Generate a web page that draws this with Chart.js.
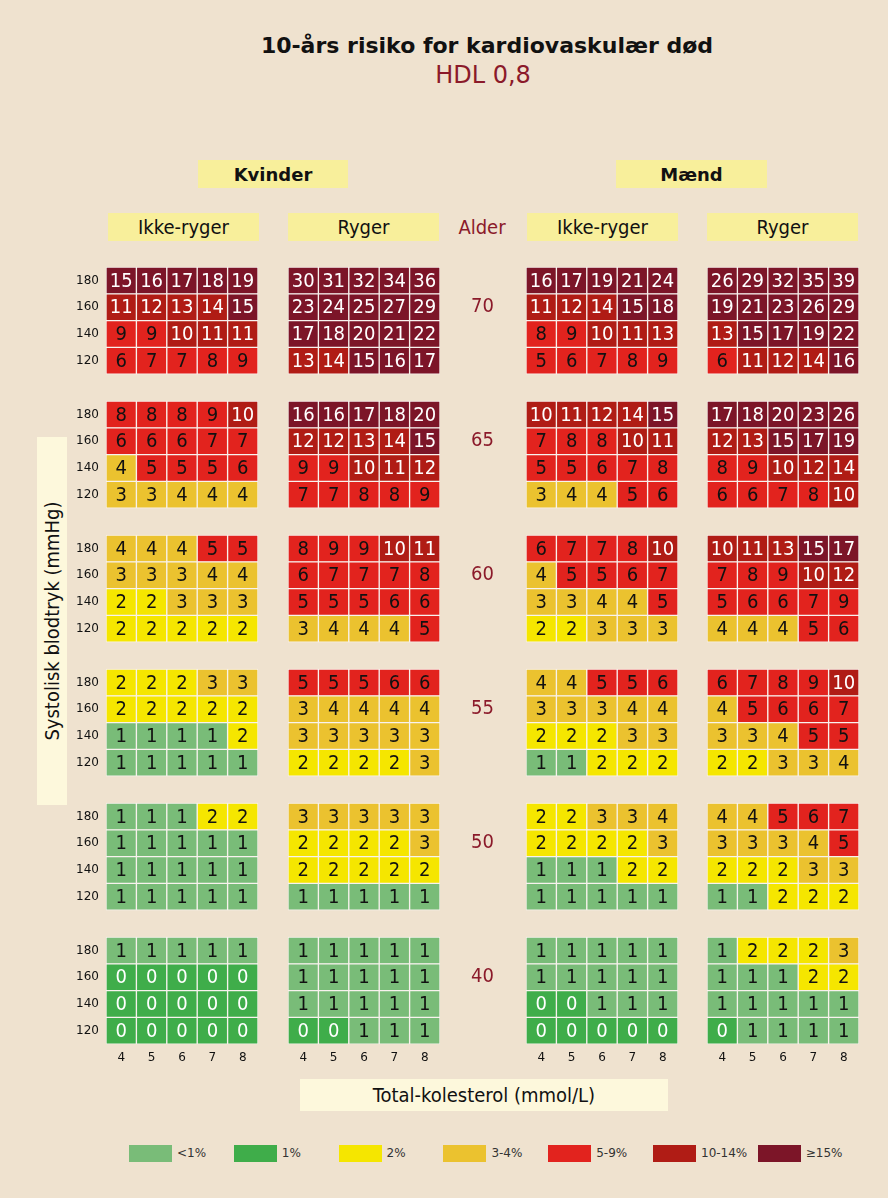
<!DOCTYPE html>
<html lang="da">
<head>
<meta charset="utf-8">
<title>10-års risiko for kardiovaskulær død</title>
<script src="https://cdn.jsdelivr.net/npm/chart.js@4.4.0/dist/chart.umd.min.js"></script>
<style>
  body { margin: 0; background: #efe2cf; font-family: "DejaVu Sans", sans-serif; color: #111; }
  #page { position: relative; width: 888px; height: 1198px; overflow: hidden; }
  .box { position: absolute; display: flex; align-items: center; justify-content: center; white-space: nowrap; }
  .cond { font-family: "DejaVu Sans Condensed", "DejaVu Sans", sans-serif; font-size: 20px; }
  .yellow { background: #f8ef9b; }
  .cream { background: #fdf8dc; }
  .red { color: #8b1a2a; }
  canvas { position: absolute; top: 222.6px; }
</style>
</head>
<body>
<div id="page">
  <div class="box" style="left:187px; top:32px; width:600px; height:26px; font-size:22px; font-weight:bold;">10-års risiko for kardiovaskulær død</div>
  <div class="box red" style="left:383px; top:61px; width:200px; height:28px; font-size:24px;">HDL 0,8</div>

  <div class="box yellow" style="left:198px; top:160px; width:150px; height:28px; font-size:18px; font-weight:bold;">Kvinder</div>
  <div class="box yellow" style="left:616px; top:160px; width:151px; height:28px; font-size:18px; font-weight:bold;">Mænd</div>

  <div class="box yellow cond" style="left:108px; top:213px; width:151px; height:28px;">Ikke-ryger</div>
  <div class="box yellow cond" style="left:288px; top:213px; width:151px; height:28px;">Ryger</div>
  <div class="box red cond" style="left:447px; top:213px; width:70px; height:28px;">Alder</div>
  <div class="box yellow cond" style="left:527px; top:213px; width:151px; height:28px;">Ikke-ryger</div>
  <div class="box yellow cond" style="left:707px; top:213px; width:151px; height:28px;">Ryger</div>

  <div class="box cream" style="left:37px; top:437px; width:30px; height:368px;">
    <span class="cond" style="display:block; transform:rotate(-90deg);">Systolisk blodtryk (mmHg)</span>
  </div>
  <div class="box cream cond" style="left:300px; top:1079px; width:368px; height:32px;">Total-kolesterol (mmol/L)</div>

  <canvas id="c1" width="192" height="866" style="left:66px;"></canvas>
  <canvas id="c2" width="152" height="866" style="left:288px;"></canvas>
  <canvas id="c3" width="238" height="866" style="left:440px;"></canvas>
  <canvas id="c4" width="152" height="866" style="left:707px;"></canvas>

  <div id="legend"></div>
</div>

<script>
// aldersgrupper, blodtryk (rækker) og kolesterol (kolonner)
const ages = [70, 65, 60, 55, 50, 40];
const bloodPressure = [180, 160, 140, 120];
const cholesterol = [4, 5, 6, 7, 8];

const legendLabels = ['<1%', '1%', '2%', '3-4%', '5-9%', '10-14%', '\u226515%'];
const riskColors = ['#79bc78', '#3fad4a', '#f5e600', '#ebc22f', '#e2231e', '#b01c15', '#7c1528'];

// risiko i % pr. aldersgruppe -> blodtryk -> kolesterol
const kvinderIkkeRyger = [
  [[15, 16, 17, 18, 19], [11, 12, 13, 14, 15], [9, 9, 10, 11, 11], [6, 7, 7, 8, 9]],
  [[8, 8, 8, 9, 10], [6, 6, 6, 7, 7], [4, 5, 5, 5, 6], [3, 3, 4, 4, 4]],
  [[4, 4, 4, 5, 5], [3, 3, 3, 4, 4], [2, 2, 3, 3, 3], [2, 2, 2, 2, 2]],
  [[2, 2, 2, 3, 3], [2, 2, 2, 2, 2], [1, 1, 1, 1, 2], [1, 1, 1, 1, 1]],
  [[1, 1, 1, 2, 2], [1, 1, 1, 1, 1], [1, 1, 1, 1, 1], [1, 1, 1, 1, 1]],
  [[1, 1, 1, 1, 1], [0, 0, 0, 0, 0], [0, 0, 0, 0, 0], [0, 0, 0, 0, 0]]
];
const kvinderRyger = [
  [[30, 31, 32, 34, 36], [23, 24, 25, 27, 29], [17, 18, 20, 21, 22], [13, 14, 15, 16, 17]],
  [[16, 16, 17, 18, 20], [12, 12, 13, 14, 15], [9, 9, 10, 11, 12], [7, 7, 8, 8, 9]],
  [[8, 9, 9, 10, 11], [6, 7, 7, 7, 8], [5, 5, 5, 6, 6], [3, 4, 4, 4, 5]],
  [[5, 5, 5, 6, 6], [3, 4, 4, 4, 4], [3, 3, 3, 3, 3], [2, 2, 2, 2, 3]],
  [[3, 3, 3, 3, 3], [2, 2, 2, 2, 3], [2, 2, 2, 2, 2], [1, 1, 1, 1, 1]],
  [[1, 1, 1, 1, 1], [1, 1, 1, 1, 1], [1, 1, 1, 1, 1], [0, 0, 1, 1, 1]]
];
const maendIkkeRyger = [
  [[16, 17, 19, 21, 24], [11, 12, 14, 15, 18], [8, 9, 10, 11, 13], [5, 6, 7, 8, 9]],
  [[10, 11, 12, 14, 15], [7, 8, 8, 10, 11], [5, 5, 6, 7, 8], [3, 4, 4, 5, 6]],
  [[6, 7, 7, 8, 10], [4, 5, 5, 6, 7], [3, 3, 4, 4, 5], [2, 2, 3, 3, 3]],
  [[4, 4, 5, 5, 6], [3, 3, 3, 4, 4], [2, 2, 2, 3, 3], [1, 1, 2, 2, 2]],
  [[2, 2, 3, 3, 4], [2, 2, 2, 2, 3], [1, 1, 1, 2, 2], [1, 1, 1, 1, 1]],
  [[1, 1, 1, 1, 1], [1, 1, 1, 1, 1], [0, 0, 1, 1, 1], [0, 0, 0, 0, 0]]
];
const maendRyger = [
  [[26, 29, 32, 35, 39], [19, 21, 23, 26, 29], [13, 15, 17, 19, 22], [6, 11, 12, 14, 16]],
  [[17, 18, 20, 23, 26], [12, 13, 15, 17, 19], [8, 9, 10, 12, 14], [6, 6, 7, 8, 10]],
  [[10, 11, 13, 15, 17], [7, 8, 9, 10, 12], [5, 6, 6, 7, 9], [4, 4, 4, 5, 6]],
  [[6, 7, 8, 9, 10], [4, 5, 6, 6, 7], [3, 3, 4, 5, 5], [2, 2, 3, 3, 4]],
  [[4, 4, 5, 6, 7], [3, 3, 3, 4, 5], [2, 2, 2, 3, 3], [1, 1, 2, 2, 2]],
  [[1, 2, 2, 2, 3], [1, 1, 1, 2, 2], [1, 1, 1, 1, 1], [0, 1, 1, 1, 1]]
];

// farve ud fra den afrundede værdi (som i originalen: 0 = mørkegrøn, 1 = lysegrøn)
function riskColor(v) {
  if (v === 0) return riskColors[1];
  if (v === 1) return riskColors[0];
  if (v === 2) return riskColors[2];
  if (v <= 4) return riskColors[3];
  if (v <= 9) return riskColors[4];
  if (v <= 14) return riskColors[5];
  return riskColors[6];
}

const rowsPerBlock = bloodPressure.length + 1; // en tom række mellem aldersgrupper
const rowCount = ages.length * rowsPerBlock - 1;

// tal i cellerne
const cellLabels = {
  id: 'cellLabels',
  afterDatasetsDraw(chart) {
    const ctx = chart.ctx;
    const meta = chart.getDatasetMeta(0);
    const cells = chart.data.datasets[0].data;
    ctx.save();
    ctx.font = '20px "DejaVu Sans Condensed", "DejaVu Sans"';
    ctx.textAlign = 'center';
    ctx.textBaseline = 'middle';
    meta.data.forEach((bar, i) => {
      const v = cells[i].v;
      const p = bar.getCenterPoint();
      ctx.fillStyle = (v === 0 || v >= 10) ? '#ffffff' : '#111111';
      ctx.fillText(String(v), p.x, p.y + 1);
    });
    ctx.restore();
  }
};

function yAxisFor(kind) {
  const base = {
    type: 'linear', reverse: true, min: -0.5, max: rowCount - 0.5,
    grid: { display: false, drawTicks: false }, border: { display: false }
  };
  if (kind === 'bp') {
    return Object.assign(base, {
      afterBuildTicks: s => {
        const t = [];
        ages.forEach((a, g) => bloodPressure.forEach((b, r) => t.push({ value: g * rowsPerBlock + r })));
        s.ticks = t;
      },
      afterFit: s => { s.width = 40; },
      ticks: {
        autoSkip: false, padding: 7, color: '#111',
        font: { size: 12, family: 'DejaVu Sans' },
        callback: v => bloodPressure[Math.round(v) % rowsPerBlock]
      }
    });
  }
  if (kind === 'age') {
    return Object.assign(base, {
      afterBuildTicks: s => { s.ticks = ages.map((a, g) => ({ value: g * rowsPerBlock + 1 })); },
      afterFit: s => { s.width = 86; },
      ticks: {
        autoSkip: false, padding: 32, crossAlign: 'center', color: '#8b1a2a',
        font: { size: 20, family: '"DejaVu Sans Condensed", "DejaVu Sans"' },
        callback: v => ages[Math.round((v - 1) / rowsPerBlock)]
      }
    });
  }
  return Object.assign(base, { display: false });
}

function buildChart(id, values, yKind) {
  const cells = [];
  values.forEach((block, g) => block.forEach((row, r) => row.forEach((v, c) => {
    const yi = g * rowsPerBlock + r;
    cells.push({ x: cholesterol[c], y: [yi - 0.5, yi + 0.5], v: v });
  })));

  return new Chart(document.getElementById(id), {
    type: 'bar',
    data: {
      datasets: [{
        data: cells,
        backgroundColor: cells.map(d => riskColor(d.v)),
        borderColor: '#f8f2ee',
        borderWidth: 1,
        borderSkipped: false,
        barPercentage: 1,
        categoryPercentage: 1
      }]
    },
    options: {
      responsive: false,
      animation: false,
      events: [],
      // samme margen i alle fire diagrammer, så rækkerne flugter
      // (top = aldersakslens tick-padding + halv etikethøjde)
      layout: { padding: { top: 44, bottom: 14.8, left: 0, right: 0 } },
      plugins: { legend: { display: false }, tooltip: { enabled: false } },
      scales: {
        x: {
          type: 'linear', min: 3.5, max: 8.5, offset: false,
          grid: { display: false, drawTicks: false, offset: false }, border: { display: false },
          afterBuildTicks: s => { s.ticks = cholesterol.map(v => ({ value: v })); },
          afterFit: s => { s.height = 30; },
          ticks: { autoSkip: false, maxRotation: 0, padding: 6, color: '#111', font: { size: 12, family: 'DejaVu Sans' } }
        },
        y: yAxisFor(yKind)
      }
    },
    plugins: [cellLabels]
  });
}

buildChart('c1', kvinderIkkeRyger, 'bp');
buildChart('c2', kvinderRyger, 'none');
buildChart('c3', maendIkkeRyger, 'age');
buildChart('c4', maendRyger, 'none');

// farveforklaring
const legend = document.getElementById('legend');
legendLabels.forEach((label, i) => {
  const left = 129 + i * 104.8;
  const sw = document.createElement('div');
  sw.style.cssText = 'position:absolute;top:1145px;width:43px;height:17px;left:' + left + 'px;background:' + riskColors[i] + ';';
  legend.appendChild(sw);
  const tx = document.createElement('div');
  tx.textContent = label;
  tx.style.cssText = 'position:absolute;top:1145px;height:17px;line-height:17px;font-size:12px;color:#333;left:' + (left + 48) + 'px;';
  legend.appendChild(tx);
});
</script>
</body>
</html>
